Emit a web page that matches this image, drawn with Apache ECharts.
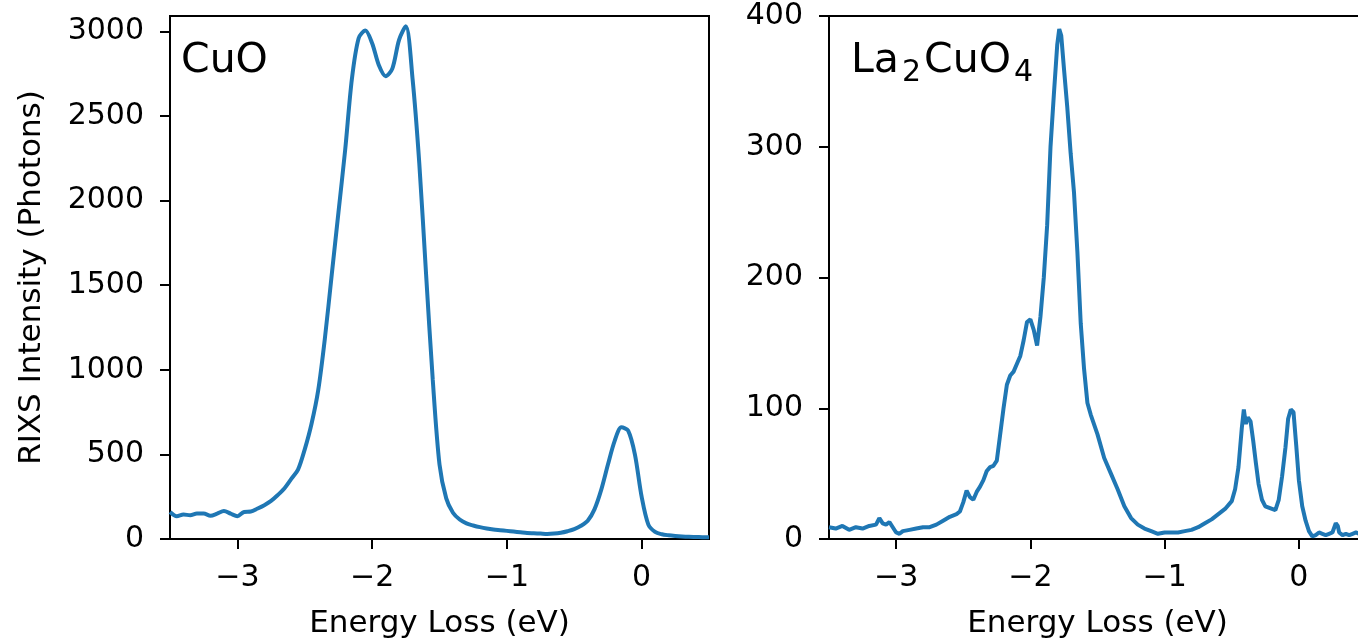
<!DOCTYPE html>
<html>
<head>
<meta charset="utf-8">
<script src="https://cdn.jsdelivr.net/npm/echarts@6/dist/echarts.min.js"></script>
<style>
html,body{margin:0;padding:0;background:#fff;}
#c{width:1358px;height:640px;overflow:hidden;position:relative;}
</style>
</head>
<body>
<div id="c"></div>
<script>
// ---- Data ----
const cuoX = [-3.50,-3.45,-3.40,-3.35,-3.30,-3.25,-3.20,-3.15,-3.10,-3.05,-3.00,-2.95,-2.90,-2.85,-2.80,-2.75,-2.70,-2.65,-2.60,-2.55,-2.50,-2.45,-2.40,-2.35,-2.30,-2.25,-2.20,-2.15,-2.10,-2.05,-2.00,-1.95,-1.90,-1.85,-1.80,-1.75,-1.70,-1.65,-1.60,-1.55,-1.50,-1.45,-1.40,-1.35,-1.30,-1.25,-1.20,-1.15,-1.10,-1.05,-1.00,-0.95,-0.90,-0.85,-0.80,-0.75,-0.70,-0.65,-0.60,-0.55,-0.50,-0.45,-0.40,-0.35,-0.30,-0.25,-0.20,-0.15,-0.10,-0.05,0.00,0.05,0.10,0.15,0.20,0.25,0.30,0.35,0.40,0.45,0.50];
const cuoY = [160,135,145,140,150,150,138,150,165,150,135,160,162,180,200,225,260,300,355,410,530,680,880,1190,1560,1930,2300,2720,2960,3005,2930,2800,2735,2780,2950,3030,2720,2220,1570,940,440,240,155,115,92,80,70,62,56,52,48,44,40,36,34,32,30,32,37,46,58,78,108,175,290,440,580,660,640,500,250,85,42,28,22,18,15,13,12,11,10];

const lcoX = [-3.50,-3.45,-3.40,-3.35,-3.30,-3.25,-3.20,-3.15,-3.125,-3.10,-3.075,-3.05,-3.025,-3.00,-2.975,-2.95,-2.90,-2.85,-2.80,-2.75,-2.70,-2.65,-2.60,-2.55,-2.525,-2.50,-2.475,-2.45,-2.425,-2.40,-2.375,-2.35,-2.325,-2.30,-2.275,-2.25,-2.225,-2.20,-2.175,-2.15,-2.125,-2.10,-2.075,-2.05,-2.025,-2.00,-1.975,-1.95,-1.925,-1.90,-1.875,-1.85,-1.825,-1.80,-1.785,-1.77,-1.75,-1.725,-1.70,-1.675,-1.65,-1.625,-1.60,-1.575,-1.55,-1.50,-1.45,-1.40,-1.35,-1.30,-1.25,-1.20,-1.15,-1.10,-1.05,-1.00,-0.95,-0.90,-0.85,-0.80,-0.75,-0.70,-0.65,-0.60,-0.55,-0.50,-0.475,-0.45,-0.425,-0.41,-0.395,-0.38,-0.36,-0.34,-0.32,-0.30,-0.275,-0.25,-0.225,-0.20,-0.175,-0.15,-0.125,-0.10,-0.08,-0.06,-0.04,-0.02,0.00,0.025,0.05,0.075,0.10,0.125,0.15,0.175,0.20,0.225,0.25,0.275,0.29,0.30,0.325,0.35,0.375,0.40,0.425,0.45,0.475,0.50];
const lcoY = [9,8,10,7,9,8,10,11,16,12,11,13,9,5,4,6,7,8,9,9,11,14,17,19,21,28,37,32,30,36,40,45,52,55,56,60,80,100,118,125,128,134,140,152,166,168,160,148,170,200,240,300,340,378,390,385,360,330,295,265,220,165,130,104,95,80,62,50,38,25,16,11,8,6,4,5,5,5,6,7,9,12,15,19,23,29,38,55,85,99,88,93,90,75,58,42,30,25,24,23,22,30,48,70,92,99,97,72,45,25,14,6,2,3,5,4,3,4,5,12,10,5,3,4,3,4,5,4,4,5];

const xTicks = [-3, -2, -1, 0];
const cuoYTicks = [0, 500, 1000, 1500, 2000, 2500, 3000];
const lcoYTicks = [0, 100, 200, 300, 400];

const xLabel = 'Energy Loss (eV)';
const yLabel = 'RIXS Intensity (Photons)';

// ---- Chart ----
const FONT = 'DejaVu Sans';
const pair = (xs, ys) => xs.map((x, i) => [x, ys[i]]);
const fmt = v => String(v).replace('-', '\u2212');

function xAxisCfg(idx) {
  return {
    type: 'value', gridIndex: idx, min: -3.5, max: 0.5,
    name: xLabel, nameLocation: 'middle', nameGap: 69,
    nameTextStyle: { fontFamily: FONT, fontSize: 31, color: '#000' },
    axisLine: { show: true, onZero: false, lineStyle: { color: '#000', width: 2 } },
    axisTick: { show: true, length: 10, inside: false, customValues: xTicks, lineStyle: { color: '#000', width: 2 } },
    axisLabel: { customValues: xTicks, margin: 24, fontFamily: FONT, fontSize: 30, color: '#000', formatter: fmt },
    splitLine: { show: false }
  };
}
function yAxisCfg(idx, max, ticks, name) {
  return {
    type: 'value', gridIndex: idx, min: 0, max: max,
    name: name, nameLocation: 'middle', nameGap: 123, nameRotate: 90,
    nameTextStyle: { fontFamily: FONT, fontSize: 31, color: '#000' },
    axisLine: { show: true, onZero: false, lineStyle: { color: '#000', width: 2 } },
    axisTick: { show: true, length: 10, inside: false, customValues: ticks, lineStyle: { color: '#000', width: 2 } },
    axisLabel: { customValues: ticks, margin: 26, fontFamily: FONT, fontSize: 30, color: '#000', formatter: fmt },
    splitLine: { show: false }
  };
}

const chart = echarts.init(document.getElementById('c'), null, { renderer: 'canvas', width: 1368, height: 640 });
chart.setOption({
  animation: false,
  backgroundColor: '#fff',
  title: [
    { text: 'CuO', left: 181, top: 41, padding: 0, textStyle: { fontFamily: FONT, fontSize: 41, fontWeight: 'normal', color: '#000' } },
    { text: '{m|La}{s|2}{m|CuO}{s|4}', left: 851, top: 41, padding: 0,
      textStyle: { fontFamily: FONT, fontSize: 41, fontWeight: 'normal', color: '#000',
        rich: {
          m: { fontFamily: FONT, fontSize: 41, color: '#000', verticalAlign: 'bottom', padding: [0, 0, 6, 0] },
          s: { fontFamily: FONT, fontSize: 30, color: '#000', verticalAlign: 'bottom', padding: [0, 3, 0, 3] }
        } } }
  ],
  grid: [
    { left: 170, top: 16, width: 539, height: 523, outerBoundsMode: 'none', containLabel: false,
      show: true, borderColor: '#000', borderWidth: 2, backgroundColor: 'transparent' },
    { left: 829, top: 16, width: 537, height: 523, outerBoundsMode: 'none', containLabel: false,
      show: true, borderColor: '#000', borderWidth: 2, backgroundColor: 'transparent' }
  ],
  xAxis: [xAxisCfg(0), xAxisCfg(1)],
  yAxis: [yAxisCfg(0, 3091, cuoYTicks, yLabel), yAxisCfg(1, 400, lcoYTicks, '')],
  series: [
    { type: 'line', xAxisIndex: 0, yAxisIndex: 0, data: pair(cuoX, cuoY), showSymbol: false, smooth: 0.3, clip: true,
      lineStyle: { color: '#1f77b4', width: 4 } },
    { type: 'line', xAxisIndex: 1, yAxisIndex: 1, data: pair(lcoX, lcoY), showSymbol: false, smooth: false, clip: true,
      lineStyle: { color: '#1f77b4', width: 4 } }
  ]
});
</script>
</body>
</html>
